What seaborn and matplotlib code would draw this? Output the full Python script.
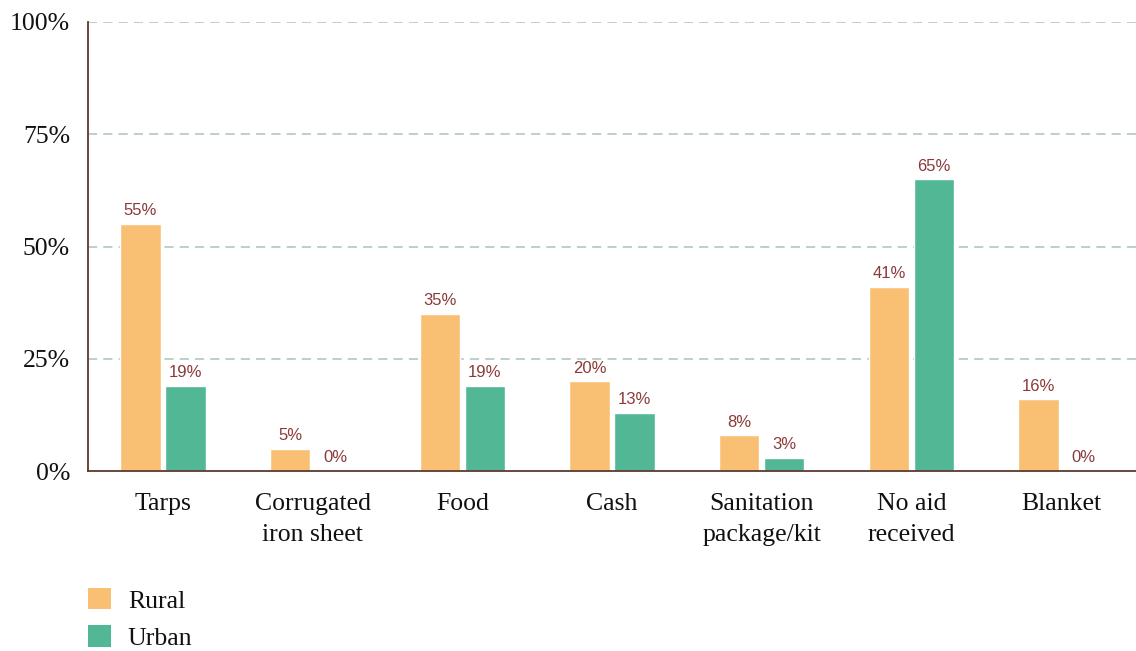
import matplotlib
matplotlib.use("Agg")
import matplotlib.pyplot as plt
import seaborn as sns
import pandas as pd
from matplotlib.patches import Patch

categories = ["Tarps", "Corrugated\niron sheet", "Food", "Cash",
              "Sanitation\npackage/kit", "No aid\nreceived", "Blanket"]
rural = [55, 5, 35, 20, 8, 41, 16]
urban = [19, 0, 19, 13, 3, 65, 0]
groups = ["Rural", "Urban"]
y_ticks = [0, 25, 50, 75, 100]
y_tick_labels = ["0%", "25%", "50%", "75%", "100%"]

colors = {"Rural": "#F9C074", "Urban": "#52B795"}
label_color = "#8B3A3A"
axis_color = "#5B3A2A"
grid_color = "#A9C4BC"
text_color = "#111111"

df = pd.DataFrame({
    "category": categories * 2,
    "group": ["Rural"] * len(categories) + ["Urban"] * len(categories),
    "value": rural + urban,
})

sns.set_theme(style="white")
plt.rcParams["font.family"] = ["Liberation Serif", "DejaVu Serif"]
plt.rcParams["text.color"] = text_color

fig = plt.figure(figsize=(11.36, 6.51), dpi=100)
ax = fig.add_axes([88 / 1136, 1 - 471 / 651, (1136 - 88) / 1136, (471 - 22) / 651])

sns.barplot(data=df, x="category", y="value", hue="group", order=categories,
            hue_order=groups, palette=colors, width=0.6, gap=0.1,
            saturation=1, ax=ax, legend=False, zorder=3)

ax.set_xlim(-0.5, len(categories) - 0.5)
ax.set_ylim(0, 100)
ax.set_yticks(y_ticks)
ax.set_yticklabels(y_tick_labels, fontsize=18.5)
ax.tick_params(axis="x", labelsize=18.5, pad=16, length=0, labelcolor=text_color)
ax.tick_params(axis="y", length=0, pad=13, labelcolor=text_color)
for t in ax.get_xticklabels():
    t.set_linespacing(1.5)
ax.set_xlabel("")
ax.set_ylabel("")

for y in y_ticks[1:]:
    ax.axhline(y, color=grid_color, linestyle=(0, (6, 4)), linewidth=1.1, zorder=1)

for side in ["top", "right"]:
    ax.spines[side].set_visible(False)
for side in ["left", "bottom"]:
    ax.spines[side].set_color(axis_color)
    ax.spines[side].set_linewidth(1.3)
    ax.spines[side].set_zorder(4)

for container in ax.containers:
    ax.bar_label(container, labels=[f"{v:.0f}%" for v in container.datavalues],
                 padding=4, fontsize=12, color=label_color,
                 fontfamily="Liberation Sans")

handles = [Patch(facecolor=colors[g], edgecolor="none") for g in groups]
fig.legend(handles, groups, loc="upper left",
           bbox_to_anchor=(88 / 1136, 1 - 588 / 651), frameon=False,
           fontsize=18.5, handlelength=0.9, handleheight=0.9,
           handletextpad=0.65, labelspacing=0.5, borderpad=0,
           borderaxespad=0, labelcolor=text_color)

fig.savefig("out.png", dpi=100)
